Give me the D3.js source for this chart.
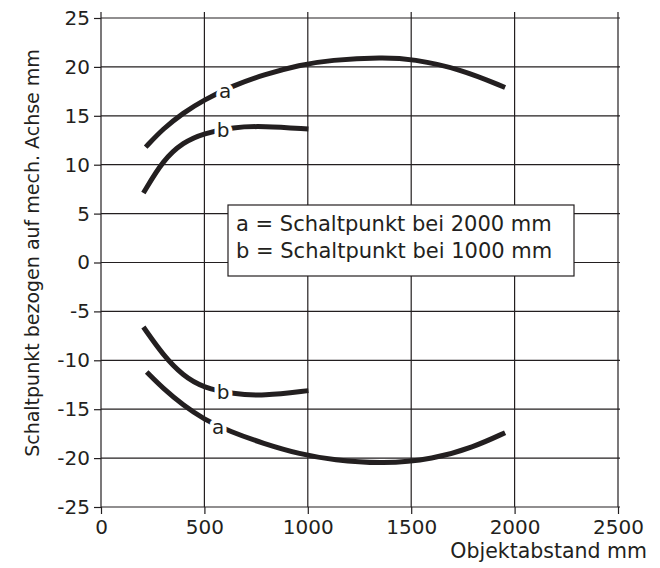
<!DOCTYPE html>
<html>
<head>
<meta charset="utf-8">
<script src="https://cdn.jsdelivr.net/npm/d3@7"></script>
<style>
  body { margin: 0; background: #fff; }
  text { font-family: "DejaVu Sans", "Liberation Sans", sans-serif; fill: #231f20; }
</style>
</head>
<body>
<svg id="chart" width="660" height="568"></svg>
<script>
// x ticks / y ticks
var xTicks = [0, 500, 1000, 1500, 2000, 2500];
var yTicks = [-25, -20, -15, -10, -5, 0, 5, 10, 15, 20, 25];

// curve a (Schaltpunkt bei 2000 mm), upper and lower branch
var aUpperX = [216, 301, 398, 495, 640, 785, 962, 1107, 1364, 1509, 1736, 1954];
var aUpperY = [11.8, 13.7, 15.3, 16.6, 18.1, 19.2, 20.2, 20.7, 21.0, 20.8, 19.8, 17.9];
var aLowerX = [221, 301, 398, 495, 624, 785, 962, 1123, 1365, 1607, 1800, 1954];
var aLowerY = [-11.2, -12.9, -14.6, -16.0, -17.3, -18.5, -19.6, -20.2, -20.6, -20.1, -18.9, -17.4];

// curve b (Schaltpunkt bei 1000 mm)
var bUpperX = [205, 301, 398, 495, 640, 785, 1003];
var bUpperY = [7.1, 10.5, 12.3, 13.2, 13.85, 13.95, 13.65];
var bLowerX = [205, 301, 398, 495, 640, 785, 1003];
var bLowerY = [-6.6, -9.5, -11.6, -12.8, -13.45, -13.65, -13.1];

// curve labels: [text, x, y]
var curveLabels = [
  ['a', 600, 17.5],
  ['b', 591, 13.5],
  ['b', 591, -13.2],
  ['a', 567, -16.8]
];

var legendLines = ['a = Schaltpunkt bei 2000 mm', 'b = Schaltpunkt bei 1000 mm'];

var ink = '#231f20';
var margin = {top: 18, left: 101};
var width = 517, height = 489;

var svg = d3.select('#chart');
var g = svg.append('g').attr('transform', 'translate(' + margin.left + ',' + margin.top + ')');

var x = d3.scaleLinear().domain([0, 2500]).range([0, width]);
var y = d3.scaleLinear().domain([-25, 25]).range([height, 0]);

// grid
g.append('g').selectAll('line').data(xTicks).join('line')
  .attr('x1', d => x(d)).attr('x2', d => x(d))
  .attr('y1', -6).attr('y2', height)
  .attr('stroke', ink).attr('stroke-width', 1.2);

g.append('g').selectAll('line').data(yTicks).join('line')
  .attr('x1', 0).attr('x2', width + 2)
  .attr('y1', d => y(d)).attr('y2', d => y(d))
  .attr('stroke', ink).attr('stroke-width', 1.2);

// axes, plain number labels with hyphen minus
var xAxis = d3.axisBottom(x).tickValues(xTicks).tickSize(7).tickPadding(6).tickFormat(d => String(d));
var yAxis = d3.axisLeft(y).tickValues(yTicks).tickSize(7).tickPadding(4).tickFormat(d => String(d));

function styleAxis(sel) {
  sel.select('.domain').remove();
  sel.selectAll('line').attr('stroke', ink).attr('stroke-width', 1.2);
  sel.selectAll('text')
    .style('font', '20px "DejaVu Sans", sans-serif')
    .attr('fill', ink);
}

g.append('g').attr('transform', 'translate(0,' + height + ')').call(xAxis).call(styleAxis);
g.append('g').call(yAxis).call(styleAxis);

// axis titles
svg.append('text')
  .attr('x', 647).attr('y', 558)
  .attr('text-anchor', 'end')
  .style('font-size', '20.5px')
  .text('Objektabstand mm');

svg.append('text')
  .attr('transform', 'translate(39,253) rotate(-90)')
  .attr('text-anchor', 'middle')
  .style('font-size', '19px')
  .text('Schaltpunkt bezogen auf mech. Achse mm');

// curves
var line = d3.line()
  .x(d => x(d[0]))
  .y(d => y(d[1]))
  .curve(d3.curveBasis);

var series = [
  d3.zip(aUpperX, aUpperY),
  d3.zip(aLowerX, aLowerY),
  d3.zip(bUpperX, bUpperY),
  d3.zip(bLowerX, bLowerY)
];

g.append('g').selectAll('path').data(series).join('path')
  .attr('d', line)
  .attr('fill', 'none')
  .attr('stroke', ink)
  .attr('stroke-width', 5)
  .attr('stroke-linecap', 'butt');

// curve labels with white halo to break the line
g.append('g').selectAll('text').data(curveLabels).join('text')
  .attr('x', d => x(d[1]))
  .attr('y', d => y(d[2]))
  .attr('dy', '0.35em')
  .attr('text-anchor', 'middle')
  .style('font-size', '20px')
  .style('paint-order', 'stroke')
  .attr('stroke', '#fff')
  .attr('stroke-width', 8)
  .attr('stroke-linejoin', 'round')
  .text(d => d[0]);

// legend box
var legend = svg.append('g');
legend.append('rect')
  .attr('x', 228).attr('y', 205)
  .attr('width', 346).attr('height', 71)
  .attr('fill', '#fff')
  .attr('stroke', ink)
  .attr('stroke-width', 1.2);

legend.selectAll('text').data(legendLines).join('text')
  .attr('x', 236)
  .attr('y', (d, i) => 231 + i * 27)
  .style('font-size', '21px')
  .text(d => d);
</script>
</body>
</html>
